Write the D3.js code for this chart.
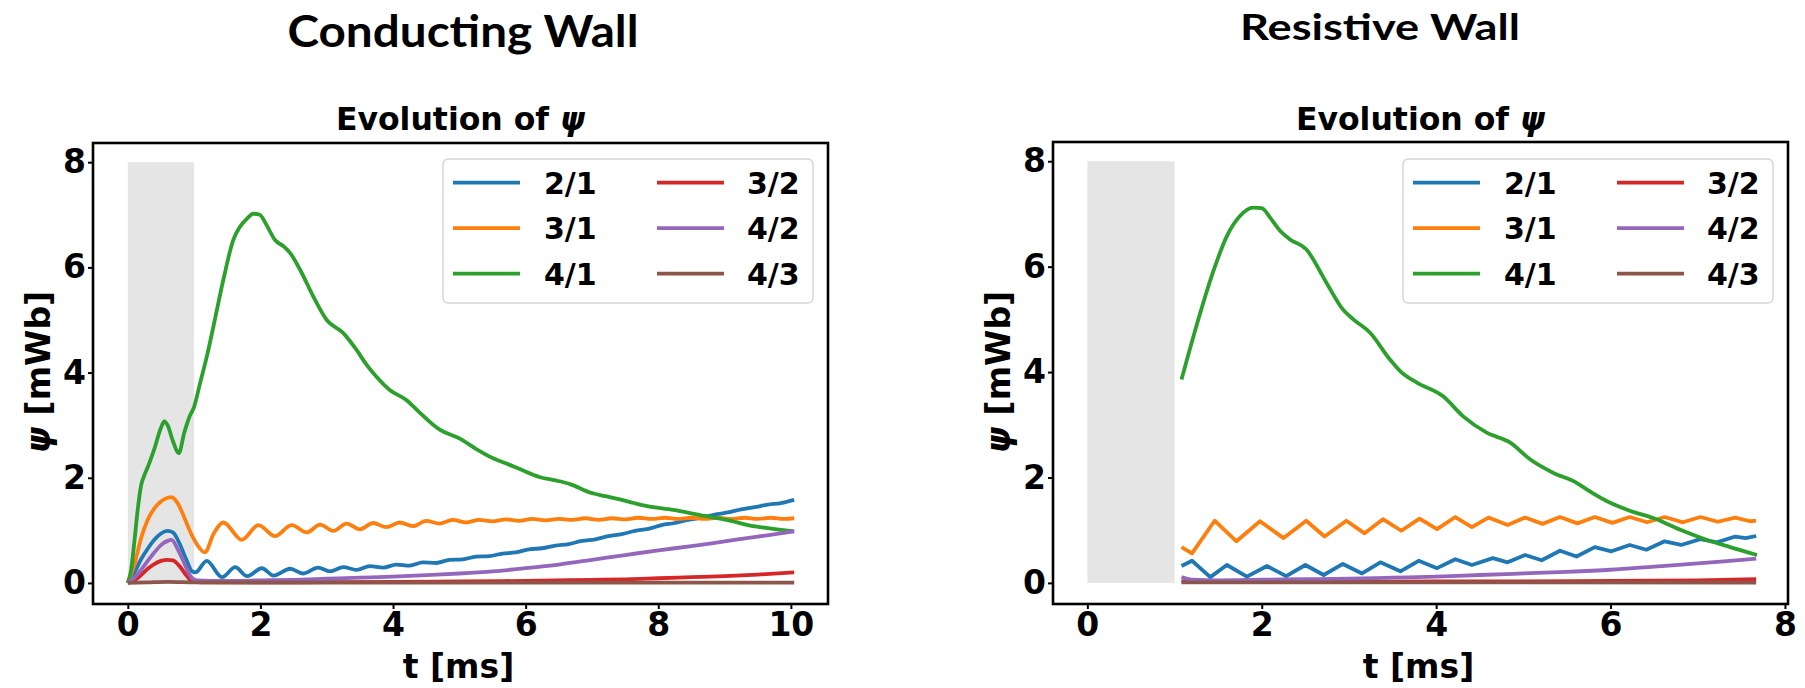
<!DOCTYPE html>
<html>
<head>
<meta charset="utf-8">
<script src="https://cdn.jsdelivr.net/npm/d3@7"></script>
<style>
  body { margin: 0; background: #fff; }
  svg { display: block; }
  .tick text { font-family: "DejaVu Sans", sans-serif; font-weight: bold; font-size: 33px; fill: #000; }
</style>
</head>
<body>
<svg id="chart" width="1805" height="688"></svg>
<script>
// series (mode m/n), same order as the legend
const modeNames = ['2/1', '3/1', '4/1', '3/2', '4/2', '4/3']
const modeColors = ['#1f77b4', '#ff7f0e', '#2ca02c', '#d62728', '#9467bd', '#8c564b']

const yTicks = [0, 2, 4, 6, 8]
const conductingXTicks = [0, 2, 4, 6, 8, 10]
const resistiveXTicks = [0, 2, 4, 6, 8]

// shaded window [t0, t1] x [psi0, psi1]
const shadeT = [0, 1]
const shadePsi = [0, 8]

// ---- conducting wall, [t ms, psi mWb]
const conducting21 = [[0,0],[0.1,0.2],[0.2,0.45],[0.3,0.65],[0.4,0.82],[0.5,0.94],[0.6,0.99],[0.68,0.96],[0.78,0.75],[0.88,0.45],[0.97,0.22],[1.02,0.2],[1.19,0.42],[1.42,0.11],[1.62,0.3],[1.8,0.13],[2.02,0.28],[2.2,0.14],[2.45,0.27],[2.64,0.18],[2.87,0.29],[3.05,0.22],[3.25,0.3],[3.45,0.25],[3.65,0.32],[3.85,0.29],[4.05,0.35],[4.25,0.33],[4.45,0.39],[4.65,0.38],[4.85,0.44],[5.05,0.45],[5.25,0.5],[5.45,0.51],[5.65,0.56],[5.85,0.58],[6.05,0.64],[6.25,0.66],[6.45,0.71],[6.65,0.74],[6.85,0.8],[7.05,0.83],[7.25,0.89],[7.45,0.93],[7.65,0.99],[7.85,1.03],[8.05,1.1],[8.25,1.14],[8.45,1.2],[8.65,1.24],[8.85,1.3],[9.05,1.34],[9.25,1.4],[9.45,1.44],[9.65,1.49],[9.85,1.52],[10.05,1.58]]
const conducting31 = [[0,0],[0.1,0.35],[0.2,0.85],[0.3,1.2],[0.4,1.42],[0.5,1.55],[0.6,1.62],[0.66,1.63],[0.75,1.52],[0.85,1.25],[0.95,0.95],[1.05,0.72],[1.16,0.58],[1.3,0.95],[1.44,1.15],[1.72,0.82],[1.97,1.1],[2.22,0.89],[2.47,1.1],[2.7,0.96],[2.9,1.11],[3.1,0.99],[3.3,1.13],[3.5,1.02],[3.7,1.14],[3.9,1.06],[4.1,1.15],[4.3,1.08],[4.5,1.18],[4.7,1.13],[4.9,1.2],[5.1,1.15],[5.3,1.2],[5.5,1.17],[5.7,1.21],[5.9,1.18],[6.1,1.22],[6.3,1.19],[6.5,1.22],[6.7,1.2],[6.9,1.23],[7.1,1.2],[7.3,1.23],[7.5,1.21],[7.7,1.24],[7.9,1.22],[8.1,1.24],[8.3,1.22],[8.5,1.24],[8.7,1.22],[8.9,1.24],[9.1,1.22],[9.3,1.24],[9.5,1.22],[9.7,1.24],[9.9,1.22],[10.05,1.23]]
const conducting41 = [[0,0],[0.05,0.25],[0.1,0.8],[0.15,1.4],[0.2,1.85],[0.25,2.05],[0.3,2.2],[0.4,2.55],[0.5,2.95],[0.55,3.07],[0.6,3.0],[0.68,2.7],[0.77,2.47],[0.85,2.85],[0.93,3.16],[1.0,3.35],[1.09,3.8],[1.2,4.35],[1.29,4.87],[1.44,5.76],[1.59,6.52],[1.69,6.77],[1.8,6.93],[1.89,7.02],[1.99,7.0],[2.09,6.81],[2.22,6.52],[2.35,6.4],[2.45,6.27],[2.6,5.95],[2.8,5.44],[3.0,5.0],[3.25,4.75],[3.45,4.43],[3.6,4.15],[3.75,3.92],[3.95,3.67],[4.2,3.48],[4.41,3.23],[4.71,2.91],[5.0,2.75],[5.25,2.55],[5.51,2.37],[5.75,2.25],[5.92,2.16],[6.22,2.01],[6.45,1.95],[6.67,1.88],[6.97,1.72],[7.2,1.65],[7.42,1.59],[7.63,1.52],[7.83,1.46],[8.23,1.39],[8.63,1.29],[9.03,1.2],[9.43,1.08],[9.6,1.05],[9.79,1.02],[10.05,0.98]]
const conducting32 = [[0,0],[0.1,0.05],[0.2,0.15],[0.3,0.27],[0.4,0.36],[0.5,0.42],[0.6,0.44],[0.68,0.43],[0.78,0.32],[0.88,0.15],[0.97,0.03],[1.1,0.01],[2.0,0.01],[3.0,0.015],[4.0,0.02],[5.0,0.03],[6.0,0.04],[7.0,0.06],[7.5,0.07],[8.0,0.09],[8.5,0.11],[9.0,0.13],[9.5,0.16],[10.05,0.2]]
const conducting42 = [[0,0],[0.1,0.1],[0.2,0.25],[0.3,0.42],[0.4,0.58],[0.5,0.72],[0.6,0.8],[0.66,0.82],[0.75,0.65],[0.85,0.38],[0.95,0.12],[1.05,0.05],[1.5,0.04],[2.0,0.05],[2.5,0.06],[3.0,0.08],[3.5,0.1],[4.0,0.12],[4.5,0.15],[5.0,0.18],[5.5,0.22],[6.0,0.28],[6.5,0.35],[7.0,0.44],[7.5,0.53],[8.0,0.62],[8.5,0.7],[9.0,0.79],[9.5,0.88],[10.05,0.98]]
const conducting43 = [[0,0],[0.3,0.01],[0.6,0.02],[1.0,0.01],[5.0,0.005],[10.05,0.005]]

// ---- resistive wall
const resistive21 = [[1.08,0.32],[1.2,0.42],[1.41,0.11],[1.6,0.34],[1.83,0.12],[2.06,0.32],[2.28,0.13],[2.5,0.34],[2.71,0.15],[2.93,0.36],[3.15,0.18],[3.36,0.39],[3.59,0.22],[3.8,0.42],[4.01,0.28],[4.22,0.45],[4.41,0.34],[4.65,0.47],[4.82,0.39],[5.02,0.53],[5.21,0.43],[5.42,0.61],[5.61,0.5],[5.82,0.68],[6.01,0.6],[6.22,0.72],[6.41,0.63],[6.62,0.79],[6.81,0.72],[7.03,0.83],[7.22,0.77],[7.43,0.88],[7.55,0.85],[7.67,0.89]]
const resistive31 = [[1.08,0.68],[1.2,0.56],[1.46,1.18],[1.71,0.79],[1.98,1.17],[2.25,0.85],[2.51,1.18],[2.72,0.88],[2.97,1.18],[3.18,0.94],[3.39,1.21],[3.6,0.99],[3.81,1.22],[4.01,1.02],[4.22,1.25],[4.41,1.06],[4.6,1.24],[4.82,1.1],[5.02,1.24],[5.22,1.12],[5.42,1.25],[5.62,1.13],[5.82,1.25],[6.02,1.14],[6.22,1.25],[6.42,1.15],[6.62,1.25],[6.83,1.15],[7.03,1.25],[7.23,1.16],[7.43,1.24],[7.6,1.17],[7.67,1.18]]
const resistive41 = [[1.08,3.86],[1.25,4.87],[1.44,5.89],[1.6,6.58],[1.75,6.96],[1.9,7.12],[2.0,7.11],[2.1,6.92],[2.21,6.68],[2.32,6.52],[2.51,6.33],[2.74,5.7],[2.93,5.19],[3.05,5.0],[3.24,4.75],[3.47,4.24],[3.6,4.0],[3.78,3.8],[4.08,3.54],[4.31,3.16],[4.58,2.85],[4.85,2.66],[5.08,2.34],[5.34,2.09],[5.61,1.9],[5.73,1.77],[5.96,1.55],[6.22,1.37],[6.49,1.23],[6.8,1.01],[7.1,0.82],[7.37,0.68],[7.68,0.53]]
const resistive32 = [[1.08,0.03],[2.0,0.02],[3.0,0.02],[4.0,0.03],[5.0,0.03],[6.0,0.04],[7.0,0.05],[7.67,0.07]]
const resistive42 = [[1.08,0.11],[1.2,0.06],[1.5,0.05],[2.0,0.06],[2.5,0.07],[3.0,0.08],[3.5,0.1],[4.0,0.12],[4.5,0.15],[5.0,0.18],[5.5,0.21],[6.0,0.25],[6.5,0.31],[7.0,0.37],[7.3,0.41],[7.67,0.46]]
const resistive43 = [[1.08,0.01],[4.0,0.01],[7.67,0.005]]

const svg = d3.select('#chart')

// bold text with an italic psi, like matplotlib's \boldsymbol{\psi}
function psiText(sel, before, after) {
    sel.append('tspan').text(before)
    sel.append('tspan').attr('font-style', 'italic').text('\u03c8')
    sel.append('tspan').text(after)
}

function drawPanel(opts) {
    const g = svg.append('g')
    const x = d3.scaleLinear().domain(opts.xDomain).range([opts.left, opts.right])
    const y = d3.scaleLinear().domain([-0.4, 8.365]).range([opts.bottom, opts.top])

    // grey window
    g.append('rect')
        .attr('x', x(shadeT[0]))
        .attr('y', y(shadePsi[1]))
        .attr('width', x(shadeT[1]) - x(shadeT[0]))
        .attr('height', y(shadePsi[0]) - y(shadePsi[1]))
        .attr('fill', '#e5e5e5')

    opts.series.forEach((s, i) => {
        const line = d3.line()
            .x(d => x(d[0]))
            .y(d => y(d[1]))
            .curve(opts.sharp[i] ? d3.curveLinear : d3.curveMonotoneX)
        g.append('path')
            .datum(s)
            .attr('d', line)
            .attr('fill', 'none')
            .attr('stroke', modeColors[i])
            .attr('stroke-width', 3.8)
            .attr('stroke-linejoin', 'round')
    })

    // axes
    const yAxis = g.append('g')
        .attr('transform', 'translate(' + opts.left + ',0)')
        .call(d3.axisLeft(y).tickValues(yTicks).tickFormat(d3.format('d')).tickSizeOuter(0).tickSize(5).tickPadding(2))
    const xAxis = g.append('g')
        .attr('transform', 'translate(0,' + opts.bottom + ')')
        .call(d3.axisBottom(x).tickValues(opts.xTicks).tickFormat(d3.format('d')).tickSizeOuter(0).tickSize(5).tickPadding(4))
    ;[yAxis, xAxis].forEach(a => {
        a.select('.domain').remove()
        a.selectAll('.tick line').attr('stroke', '#000').attr('stroke-width', 2)
    })

    g.append('rect')
        .attr('x', opts.left)
        .attr('y', opts.top)
        .attr('width', opts.right - opts.left)
        .attr('height', opts.bottom - opts.top)
        .attr('fill', 'none')
        .attr('stroke', '#000')
        .attr('stroke-width', 2.6)

    // legend
    const lg = g.append('g').attr('transform', 'translate(' + opts.legendX + ',159)')
    lg.append('rect')
        .attr('width', 370)
        .attr('height', 144)
        .attr('rx', 5)
        .attr('fill', '#fff')
        .attr('fill-opacity', 0.8)
        .attr('stroke', '#d6d6d6')
        .attr('stroke-width', 1.5)
    modeNames.forEach((name, i) => {
        const col = Math.floor(i / 3)
        const row = i % 3
        const cx = col == 0 ? 10 : 214
        const cy = 23.7 + row * 45.5
        lg.append('line')
            .attr('x1', cx).attr('x2', cx + 67)
            .attr('y1', cy).attr('y2', cy)
            .attr('stroke', modeColors[i])
            .attr('stroke-width', 3.8)
        lg.append('text')
            .attr('x', cx + (col == 0 ? 91 : 90))
            .attr('y', cy + 10.8)
            .attr('font-family', 'DejaVu Sans')
            .attr('font-weight', 'bold')
            .attr('font-size', 30)
            .text(name)
    })

    // titles and labels
    const mid = (opts.left + opts.right) / 2
    g.append('text')
        .attr('x', mid)
        .attr('y', 130)
        .attr('text-anchor', 'middle')
        .attr('font-family', 'DejaVu Sans')
        .attr('font-weight', 'bold')
        .attr('font-size', 31.5)
        .call(psiText, 'Evolution of ', '')

    g.append('text')
        .attr('x', mid - 2)
        .attr('y', 678)
        .attr('text-anchor', 'middle')
        .attr('font-family', 'DejaVu Sans')
        .attr('font-weight', 'bold')
        .attr('font-size', 33)
        .text('t [ms]')

    g.append('text')
        .attr('transform', 'translate(' + (opts.left - 43) + ',' + 372 + ') rotate(-90)')
        .attr('text-anchor', 'middle')
        .attr('font-family', 'DejaVu Sans')
        .attr('font-weight', 'bold')
        .attr('font-size', 33)
        .call(psiText, '', ' [mWb]')

    g.append('text')
        .attr('x', opts.headX)
        .attr('y', opts.headY)
        .attr('text-anchor', 'middle')
        .attr('font-family', 'Lato, sans-serif')
        .attr('font-weight', 'bold')
        .attr('font-size', opts.headSize)
        .attr('textLength', opts.headWidth)
        .attr('lengthAdjust', 'spacingAndGlyphs')
        .text(opts.head)
}

drawPanel({
    head: 'Conducting Wall', headX: 463, headY: 46.5, headSize: 44, headWidth: 351,
    left: 93, right: 828, top: 143, bottom: 604,
    xDomain: [-0.525, 10.56], xTicks: conductingXTicks, legendX: 443,
    sharp: [false, false, false, false, false, false],
    series: [conducting21, conducting31, conducting41, conducting32, conducting42, conducting43]
})

drawPanel({
    head: 'Resistive Wall', headX: 1380, headY: 40, headSize: 37, headWidth: 280,
    left: 1053, right: 1788, top: 142, bottom: 604,
    xDomain: [-0.394, 8.035], xTicks: resistiveXTicks, legendX: 1403,
    sharp: [true, true, false, false, false, false],
    series: [resistive21, resistive31, resistive41, resistive32, resistive42, resistive43]
})
</script>
</body>
</html>
